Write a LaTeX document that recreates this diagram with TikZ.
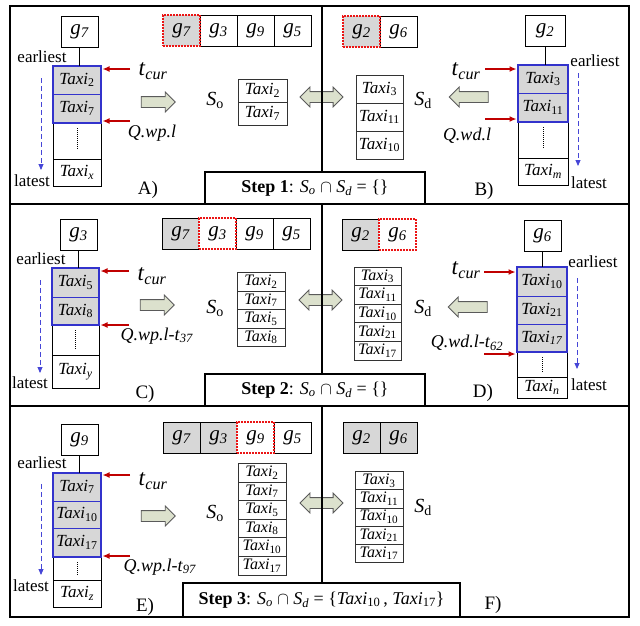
\documentclass[tikz,border=0pt]{standalone}
\usepackage{fontspec}
\setmainfont{Liberation Serif}
\usetikzlibrary{positioning, arrows.meta, shapes.arrows}

\definecolor{hitgray}{RGB}{215,215,215}
\definecolor{curred}{RGB}{192,0,0}
\definecolor{dashred}{RGB}{235,20,20}
\definecolor{frameblue}{RGB}{51,51,204}
\definecolor{timeblue}{RGB}{70,70,215}
\definecolor{fatfill}{RGB}{220,225,205}
\definecolor{fatdraw}{RGB}{90,90,90}

\newcommand{\taxi}[1]{\textit{Taxi}\textsubscript{#1}}
\newcommand{\gx}[1]{\textit{g\textsubscript{#1}}}
\newcommand{\tcur}{\textit{t}\textsubscript{\textit{cur}}}

\tikzset{
  cell/.style={draw, line width=1pt, inner sep=0pt, outer sep=0pt},
  gcell/.style={cell, minimum width=37pt, minimum height=31pt, font=\fontsize{21}{21}\selectfont},
  hit/.style={fill=hitgray},
  nextg/.style={preaction={draw=white, line width=1.4pt}, draw=dashred, dash pattern=on 1.8pt off 1.2pt, line width=1.2pt},
  slot/.style={cell, minimum width=48pt, font=\fontsize{17}{17}\selectfont},
  inwin/.style={slot, fill=hitgray, draw=frameblue},
  item/.style={cell, draw=black!80, line width=0.8pt, minimum width=48pt, font=\fontsize{16}{16}\selectfont},
  bigitem/.style={item, font=\fontsize{17}{17}\selectfont},
  note/.style={font=\fontsize{17}{17}\selectfont, inner sep=1pt},
  query/.style={font=\fontsize{18}{18}\selectfont, inner sep=1pt},
  setname/.style={font=\fontsize{20}{20}\selectfont},
  panelname/.style={font=\fontsize{19}{19}\selectfont},
  curlbl/.style={font=\fontsize{23}{23}\selectfont, inner sep=1pt},
  redarr/.style={curred, line width=1.3pt, -{Latex[length=7pt, width=6pt]}, shorten >=1.5pt},
  timearr/.style={timeblue, line width=0.9pt, dash pattern=on 5pt off 3pt, -{Triangle[length=6pt, width=5pt]}},
  fat/.style={single arrow, draw=fatdraw, fill=fatfill, line width=0.8pt, inner sep=5pt, single arrow head extend=4.5pt, minimum height=34pt},
  fatboth/.style={double arrow, draw=fatdraw, fill=fatfill, line width=0.8pt, inner sep=5pt, double arrow head extend=4.5pt, minimum height=43pt},
  stepbox/.style={draw, fill=white, line width=1.2pt, inner sep=0pt, font=\fontsize{18}{18}\selectfont},
  frame/.style={line width=1.8pt},
}

\begin{document}
\begin{tikzpicture}[x=1pt,y=-1pt]
\useasboundingbox (0,0) rectangle (640,625);

%%%%%%%%%%%%%%%% Step 1 %%%%%%%%%%%%%%%%
%Stack A
\node[gcell] (gA) at (79.5,32) {\gx{7}};
\node[inwin, minimum height=28pt] (a1) at (77,80) {\taxi{2}};
\node[inwin, minimum height=29pt, below=0pt of a1] (a2) {\taxi{7}};
\node[slot, minimum height=36pt, below=0pt of a2] (a3) {};
\node[slot, minimum height=27pt, below=0pt of a3] (a4) {\taxi{\textit{x}}};
\draw[frameblue, line width=1.1pt] (a1.north west) rectangle (a2.south east);
\draw[line width=0.9pt] (gA.south) -- (gA.south |- a1.north);
\draw[densely dotted, line width=1pt] ([yshift=-5pt]a3.north) -- ([yshift=9pt]a3.south);
\node[note] (eA) at (42,57) {earliest};
\node[note] (lA) at (32,181) {latest};
\draw[timearr] (41,78) -- (41,170);
\coordinate (cA1) at (130,69);
\coordinate (cA2) at (130,121);
\draw[redarr] (cA1) -- (cA1 -| a1.east);
\draw[redarr] (cA2) -- (cA2 -| a1.east);
\node[curlbl] (tA) at (153,71) {\tcur};
\node[query] (qA) at (152,133) {\textit{Q.wp.l}};
\node[fat] (fA) at (155.5,102) {};
\node[panelname] (pA) at (148,190) {A)};

%Origin cells and So
\node[gcell] (rA2) at (218.5,30.5) {\gx{3}};
\node[gcell] (rA3) at (255.5,30.5) {\gx{9}};
\node[gcell] (rA4) at (292.5,30.5) {\gx{5}};
\node[gcell, hit, nextg] (rA1) at (181.5,30.5) {\gx{7}};
\node[setname] (oA) at (215,100) {\textit{S}\textsubscript{o}};
\node[bigitem, minimum width=49pt, minimum height=23pt] (oA1) at (262.5,90.5) {\taxi{2}};
\node[bigitem, minimum width=49pt, minimum height=23pt, below=0pt of oA1] (oA2) {\taxi{7}};
\node[fatboth] (dA) at (321.5,97) {};

%Destination cells and Sd
\node[gcell] (rB2) at (398.5,31.5) {\gx{6}};
\node[gcell, hit, nextg] (rB1) at (361.5,31.5) {\gx{2}};
\node[setname] (dB) at (423,100) {\textit{S}\textsubscript{d}};
\node[bigitem, minimum width=47pt, minimum height=28pt] (dB1) at (379.5,89) {\taxi{3}};
\node[bigitem, minimum width=47pt, minimum height=28pt, below=0pt of dB1] (dB2) {\taxi{11}};
\node[bigitem, minimum width=47pt, minimum height=28pt, below=0pt of dB2] (dB3) {\taxi{10}};
\node[fat, minimum height=39pt, shape border rotate=180] (fB) at (471.5,97) {};

%Stack B
\node[gcell, minimum width=40pt] (gB) at (545,31) {\gx{2}};
\node[inwin, minimum width=50pt, minimum height=28pt] (b1) at (543,79) {\taxi{3}};
\node[inwin, minimum width=50pt, minimum height=29pt, below=0pt of b1] (b2) {\taxi{11}};
\node[slot, minimum width=50pt, minimum height=36pt, below=0pt of b2] (b3) {};
\node[slot, minimum width=50pt, minimum height=27pt, below=0pt of b3] (b4) {\taxi{\textit{m}}};
\draw[frameblue, line width=1.1pt] (b1.north west) rectangle (b2.south east);
\draw[line width=0.9pt] (gB.south) -- (gB.south |- b1.north);
\draw[densely dotted, line width=1pt] ([yshift=-5pt]b3.north) -- ([yshift=9pt]b3.south);
\node[note] (eB) at (595,61) {earliest};
\node[note] (lB) at (589,183) {latest};
\draw[timearr] (578,73) -- (578,166);
\coordinate (cB1) at (485,69);
\coordinate (cB2) at (485,119);
\draw[redarr] (cB1) -- (cB1 -| b1.west);
\draw[redarr] (cB2) -- (cB2 -| b1.west);
\node[curlbl] (tB) at (466,71) {\tcur};
\node[query] (qB) at (467,136) {\textit{Q.wd.l}};
\node[panelname] (pB) at (484,191) {B)};

%%%%%%%%%%%%%%%% Step 2 %%%%%%%%%%%%%%%%
%Stack C
\node[gcell] (gC) at (78.5,235) {\gx{3}};
\node[inwin, minimum width=47pt, minimum height=29pt] (c1) at (75.5,282.5) {\taxi{5}};
\node[inwin, minimum width=47pt, minimum height=28pt, below=0pt of c1] (c2) {\taxi{8}};
\node[slot, minimum width=47pt, minimum height=30pt, below=0pt of c2] (c3) {};
\node[slot, minimum width=47pt, minimum height=33pt, below=0pt of c3] (c4) {\taxi{\textit{y}}};
\draw[frameblue, line width=1.1pt] (c1.north west) rectangle (c2.south east);
\draw[line width=0.9pt] (gC.south) -- (gC.south |- c1.north);
\draw[densely dotted, line width=1pt] ([yshift=-5pt]c3.north) -- ([yshift=6pt]c3.south);
\node[note] (eC) at (41,259) {earliest};
\node[note] (lC) at (30,383) {latest};
\draw[timearr] (40,280) -- (40,373);
\coordinate (cC1) at (129,271);
\coordinate (cC2) at (129,325);
\draw[redarr] (cC1) -- (cC1 -| c1.east);
\draw[redarr] (cC2) -- (cC2 -| c1.east);
\node[curlbl] (tC) at (152,276) {\tcur};
\node[query] (qC) at (157,336) {\textit{Q.wp.l-t}\textsubscript{\textit{37}}};
\node[fat] (fC) at (154.5,305) {};
\node[panelname] (pC) at (145,394) {C)};

%Origin cells and So
\node[gcell, hit] (rC1) at (180.5,233.5) {\gx{7}};
\node[gcell] (rC3) at (254.5,233.5) {\gx{9}};
\node[gcell] (rC4) at (291.5,233.5) {\gx{5}};
\node[gcell, fill=white, nextg] (rC2) at (217.5,233.5) {\gx{3}};
\node[setname] (oC) at (215,308) {\textit{S}\textsubscript{o}};
\node[item, minimum height=18.5pt] (oC1) at (261,281.75) {\taxi{2}};
\node[item, minimum height=18.5pt, below=0pt of oC1] (oC2) {\taxi{7}};
\node[item, minimum height=18.5pt, below=0pt of oC2] (oC3) {\taxi{5}};
\node[item, minimum height=18.5pt, below=0pt of oC3] (oC4) {\taxi{8}};
\node[fatboth] (dC) at (320.5,300) {};

%Destination cells and Sd
\node[gcell, hit] (rD1) at (360.5,234.5) {\gx{2}};
\node[gcell, fill=white, nextg] (rD2) at (397.5,234.5) {\gx{6}};
\node[setname] (dD) at (423,308) {\textit{S}\textsubscript{d}};
\node[item, minimum width=47pt, minimum height=18.6pt] (dD1) at (377.5,276.3) {\taxi{3}};
\node[item, minimum width=47pt, minimum height=18.6pt, below=0pt of dD1] (dD2) {\taxi{11}};
\node[item, minimum width=47pt, minimum height=18.6pt, below=0pt of dD2] (dD3) {\taxi{10}};
\node[item, minimum width=47pt, minimum height=18.6pt, below=0pt of dD3] (dD4) {\taxi{21}};
\node[item, minimum width=47pt, minimum height=18.6pt, below=0pt of dD4] (dD5) {\taxi{17}};
\node[fat, minimum height=39pt, shape border rotate=180] (fD) at (470.5,307) {};

%Stack D
\node[gcell] (gD) at (542.5,235.5) {\gx{6}};
\node[inwin, minimum width=50pt, minimum height=29pt] (d1) at (542,281.5) {\taxi{10}};
\node[inwin, minimum width=50pt, minimum height=28pt, below=0pt of d1] (d2) {\taxi{21}};
\node[inwin, minimum width=50pt, minimum height=28pt, below=0pt of d2] (d3) {\taxi{\textit{17}}};
\node[slot, minimum width=50pt, minimum height=25pt, below=0pt of d3] (d4) {};
\node[slot, minimum width=50pt, minimum height=21pt, below=0pt of d4] (d5) {\taxi{\textit{n}}};
\draw[frameblue, line width=1.1pt] (d1.north west) rectangle (d3.south east);
\draw[line width=0.9pt] (gD.south) -- (gD.south |- d1.north);
\draw[densely dotted, line width=1pt] ([yshift=-5pt]d4.north) -- ([yshift=5pt]d4.south);
\node[note] (eD) at (593,262) {earliest};
\node[note] (lD) at (589,385) {latest};
\draw[timearr] (577,278) -- (577,369);
\coordinate (cD1) at (484,272);
\coordinate (cD2) at (484,354);
\draw[redarr] (cD1) -- (cD1 -| d1.west);
\draw[redarr] (cD2) -- (cD2 -| d1.west);
\node[curlbl] (tD) at (466,270) {\tcur};
\node[query] (qD) at (467,343) {\textit{Q.wd.l-t}\textsubscript{\textit{62}}};
\node[panelname] (pD) at (483,393) {D)};

%%%%%%%%%%%%%%%% Step 3 %%%%%%%%%%%%%%%%
%Stack E
\node[gcell] (gE) at (79.5,439.5) {\gx{9}};
\node[inwin, minimum height=28pt] (e1) at (77,487) {\taxi{7}};
\node[inwin, minimum height=27pt, below=0pt of e1] (e2) {\taxi{10}};
\node[inwin, minimum height=29pt, below=0pt of e2] (e3) {\taxi{17}};
\node[slot, minimum height=23pt, below=0pt of e3] (e4) {};
\node[slot, minimum height=27pt, below=0pt of e4] (e5) {\taxi{\textit{z}}};
\draw[frameblue, line width=1.1pt] (e1.north west) rectangle (e3.south east);
\draw[line width=0.9pt] (gE.south) -- (gE.south |- e1.north);
\draw[densely dotted, line width=1pt] ([yshift=-5pt]e4.north) -- ([yshift=5pt]e4.south);
\node[note] (eE) at (42,463) {earliest};
\node[note] (lE) at (31,586) {latest};
\draw[timearr] (41,484) -- (41,575);
\coordinate (cE1) at (130,475);
\coordinate (cE2) at (130,556);
\draw[redarr] (cE1) -- (cE1 -| e1.east);
\draw[redarr] (cE2) -- (cE2 -| e1.east);
\node[curlbl] (tE) at (153,481) {\tcur};
\node[query] (qE) at (160,567) {\textit{Q.wp.l-t}\textsubscript{\textit{97}}};
\node[fat] (fE) at (155.5,516) {};
\node[panelname] (pE) at (145,607) {E)};

%Origin cells and So
\node[gcell, hit] (rE1) at (181.5,437.5) {\gx{7}};
\node[gcell, hit] (rE2) at (218.5,437.5) {\gx{3}};
\node[gcell] (rE4) at (292.5,437.5) {\gx{5}};
\node[gcell, fill=white, nextg] (rE3) at (255.5,437.5) {\gx{9}};
\node[setname] (oE) at (215,513) {\textit{S}\textsubscript{o}};
\node[item, minimum height=18.6pt] (oE1) at (262,472.6) {\taxi{2}};
\node[item, minimum height=18.6pt, below=0pt of oE1] (oE2) {\taxi{7}};
\node[item, minimum height=18.6pt, below=0pt of oE2] (oE3) {\taxi{5}};
\node[item, minimum height=18.6pt, below=0pt of oE3] (oE4) {\taxi{8}};
\node[item, minimum height=18.6pt, below=0pt of oE4] (oE5) {\taxi{10}};
\node[item, minimum height=18.6pt, below=0pt of oE5] (oE6) {\taxi{17}};
\node[fatboth] (dE) at (321.5,503) {};

%Destination cells and Sd
\node[gcell, hit] (rF1) at (361.5,438) {\gx{2}};
\node[gcell, hit] (rF2) at (398.5,438) {\gx{6}};
\node[setname] (dF) at (423,507) {\textit{S}\textsubscript{d}};
\node[item, minimum height=18.1pt] (dF1) at (379,480.75) {\taxi{3}};
\node[item, minimum height=18.1pt, below=0pt of dF1] (dF2) {\taxi{11}};
\node[item, minimum height=18.1pt, below=0pt of dF2] (dF3) {\taxi{10}};
\node[item, minimum height=18.1pt, below=0pt of dF3] (dF4) {\taxi{21}};
\node[item, minimum height=18.1pt, below=0pt of dF4] (dF5) {\taxi{17}};
\node[panelname] (pF) at (493,605) {F)};

%Middle line and step boxes
\draw[line width=1.2pt] (322,6) -- (322,617);
\node[stepbox, minimum width=220pt, minimum height=32pt] (sA) at (315,188)
  {\textbf{Step 1}: \textit{S}\textsubscript{\textit{o}} $\cap$ \textit{S}\textsubscript{\textit{d}} = \{\}};
\node[stepbox, minimum width=220pt, minimum height=32pt] (sC) at (315,390)
  {\textbf{Step 2}: \textit{S}\textsubscript{\textit{o}} $\cap$ \textit{S}\textsubscript{\textit{d}} = \{\}};
\node[stepbox, minimum width=277pt, minimum height=34pt] (sE) at (321.5,600)
  {\textbf{Step 3}: \textit{S}\textsubscript{\textit{o}} $\cap$ \textit{S}\textsubscript{\textit{d}} = \{\taxi{10}\,, \taxi{17}\}};

%Outer frame
\draw[frame] (10,6) rectangle (629,617);
\draw[line width=1.5pt] (10,204) -- (629,204);
\draw[line width=1.5pt] (10,406) -- (629,406);

\end{tikzpicture}
\end{document}
